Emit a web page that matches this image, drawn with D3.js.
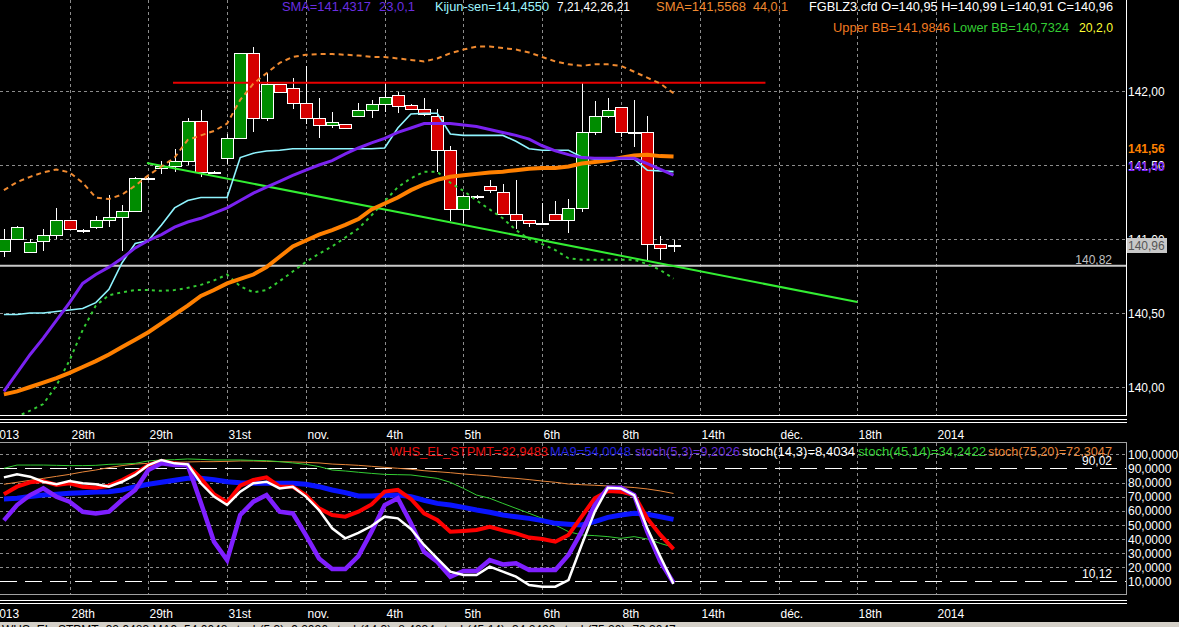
<!DOCTYPE html>
<html><head><meta charset="utf-8">
<script src="https://cdn.jsdelivr.net/npm/d3@7/dist/d3.min.js"></script>
<style>
html,body{margin:0;padding:0;background:#000;overflow:hidden}
svg{display:block}
text{font-family:"Liberation Sans",Arial,sans-serif;font-size:12px}
</style></head><body>
<svg id="c" width="1179" height="627"></svg>
<script>
// ---------- DATA ----------
const open =[140.92,141.00,140.915,140.985,141.025,141.13,141.06,141.08,141.13,141.15,141.19,141.41,141.48,141.49,141.525,141.80,141.455,141.545,141.68,142.26,141.815,142.05,142.02,141.92,141.815,141.77,141.775,141.83,141.875,141.91,141.97,141.905,141.88,141.83,141.60,141.20,141.29,141.355,141.315,141.17,141.13,141.105,141.17,141.13,141.21,141.72,141.83,141.89,141.72,141.72,140.965,140.95];
const high =[141.07,141.09,141.00,141.07,141.21,141.13,141.065,141.155,141.30,141.23,141.42,141.42,141.53,141.61,141.815,141.87,141.46,141.71,142.26,142.30,142.12,142.05,142.09,142.17,141.95,141.86,141.78,141.92,141.94,142.06,141.995,141.91,141.95,141.88,141.63,141.295,141.30,141.40,141.37,141.40,141.13,141.24,141.26,141.27,142.06,141.93,141.95,141.89,141.94,141.83,141.02,140.99];
const low  =[140.88,140.99,140.915,140.92,141.00,141.07,141.04,141.07,141.08,140.92,141.19,141.40,141.44,141.455,141.50,141.42,141.44,141.51,141.68,141.725,141.80,141.99,141.88,141.78,141.68,141.75,141.74,141.83,141.815,141.86,141.85,141.87,141.83,141.455,141.12,141.105,141.27,141.31,141.17,141.07,141.08,141.095,141.13,141.04,141.18,141.70,141.815,141.69,141.62,140.86,140.86,140.91];
const close=[141.00,141.08,140.98,141.025,141.13,141.07,141.06,141.13,141.15,141.19,141.41,141.41,141.49,141.525,141.80,141.455,141.445,141.68,142.26,141.815,142.05,141.995,141.92,141.815,141.77,141.79,141.75,141.875,141.91,141.96,141.90,141.88,141.845,141.60,141.20,141.29,141.29,141.33,141.17,141.13,141.105,141.10,141.13,141.21,141.72,141.83,141.87,141.72,141.72,140.965,140.94,140.96];

const kijun=[140.49,140.49,140.50,140.50,140.51,140.52,140.53,140.57,140.66,140.84,140.97,140.99,141.095,141.21,141.26,141.28,141.28,141.28,141.55,141.58,141.595,141.60,141.61,141.61,141.61,141.61,141.61,141.61,141.61,141.615,141.75,141.845,141.85,141.85,141.71,141.70,141.70,141.70,141.70,141.66,141.61,141.60,141.60,141.60,141.555,141.54,141.54,141.54,141.54,141.465,141.46,141.455];
const sma23=[139.97,140.095,140.22,140.33,140.45,140.57,140.70,140.76,140.81,140.87,140.94,140.99,141.03,141.08,141.115,141.14,141.175,141.21,141.26,141.31,141.35,141.39,141.43,141.466,141.50,141.53,141.575,141.615,141.65,141.68,141.72,141.75,141.78,141.78,141.78,141.77,141.76,141.74,141.72,141.70,141.675,141.63,141.595,141.57,141.55,141.545,141.545,141.545,141.545,141.51,141.47,141.4317];
const sma44=[139.95,139.97,140.00,140.03,140.06,140.095,140.135,140.175,140.22,140.27,140.32,140.37,140.43,140.49,140.55,140.615,140.655,140.70,140.73,140.76,140.81,140.88,140.95,140.99,141.03,141.06,141.095,141.135,141.20,141.24,141.28,141.33,141.37,141.40,141.42,141.43,141.44,141.45,141.455,141.465,141.475,141.48,141.48,141.49,141.51,141.52,141.53,141.55,141.565,141.57,141.56,141.5568];
const bbUpper=[141.33,141.385,141.42,141.45,141.47,141.45,141.38,141.28,141.27,141.30,141.36,141.43,141.49,141.55,141.67,141.70,141.73,141.78,141.94,142.05,142.12,142.19,142.23,142.245,142.25,142.25,142.245,142.24,142.23,142.23,142.22,142.21,142.20,142.22,142.255,142.28,142.30,142.30,142.29,142.28,142.26,142.23,142.20,142.18,142.17,142.18,142.18,142.17,142.13,142.09,142.05,141.9846];
const bbLower=[139.74,139.80,139.84,139.885,140.01,140.18,140.385,140.55,140.62,140.64,140.655,140.655,140.65,140.655,140.67,140.69,140.72,140.76,140.68,140.64,140.655,140.715,140.78,140.845,140.90,140.95,141.01,141.07,141.16,141.255,141.35,141.41,141.455,141.455,141.38,141.325,141.26,141.20,141.14,141.06,141.00,140.965,140.925,140.87,140.86,140.86,140.86,140.86,140.86,140.83,140.79,140.7324];

const whs  =[71.7,77.1,80.2,81.1,78.3,79.5,77.1,76.4,77.8,81.8,86.5,92.4,95.3,93.6,92.4,83.0,71.7,66.0,77.8,81.8,83.7,77.1,77.1,71.2,61.8,57.1,55.9,59.4,64.6,73.6,74.8,68.4,58.3,53.6,45.3,45.8,46.5,48.8,46.2,44.1,41.1,40.1,38.2,43.0,55.9,68.9,74.1,73.6,71.2,54.7,43.0,32.9483];
const ma9  =[68.4,68.9,70.1,71.2,71.7,72.4,72.9,73.4,73.6,74.8,77.1,78.8,80.2,81.6,83.0,83.0,82.1,80.6,79.9,79.5,79.5,79.5,79.5,78.8,77.1,74.8,72.9,70.5,70.5,71.0,71.2,70.1,67.5,65.3,64.2,62.5,60.6,59.0,57.1,55.9,54.7,53.1,51.2,50.5,50.0,52.4,55.4,57.1,58.3,57.6,55.9,54.0048];
const st53 =[53.3,64.1,71.2,76.0,70.0,66.5,59.4,58.2,59.4,67.7,74.8,88.9,93.6,92.4,92.4,65.8,38.2,25.2,57.1,66.5,71.2,59.4,58.2,42.9,26.4,18.9,18.9,28.0,45.3,64.1,68.9,51.2,31.1,24.0,13.4,17.5,17.5,25.2,22.1,22.9,18.2,18.2,18.2,28.8,45.3,64.1,76.4,76.4,71.2,45.3,24.0,9.2026];
const st143=[83.7,85.8,84.2,80.6,78.8,81.1,79.5,78.8,77.1,80.6,85.4,92.4,96.0,93.6,92.9,79.5,70.1,64.2,73.6,79.5,80.6,75.9,77.1,70.1,60.6,47.7,40.6,44.5,49.3,55.9,54.7,47.2,35.9,26.4,17.0,14.7,14.7,20.6,17.0,13.5,7.6,6.4,6.4,11.1,35.9,59.4,76.4,75.9,71.2,47.7,27.6,8.4034];
const st4514=[90.1,92.4,92.4,92.4,92.2,92.0,92.0,92.2,92.9,93.1,93.6,95.3,96.0,96.2,96.7,96.4,96.0,96.0,96.0,95.7,95.5,94.8,93.9,92.9,91.3,88.9,88.2,87.3,86.5,85.8,85.6,85.4,84.2,83.0,80.2,75.9,71.2,68.9,65.3,61.8,58.3,54.7,50.0,45.3,43.0,42.5,41.8,40.6,41.8,40.1,37.0,34.2422];
const st7520=[78.8,80.2,81.6,83.0,84.4,85.8,87.5,88.9,90.6,92.0,93.1,93.6,94.1,94.3,94.6,94.8,94.8,95.0,95.3,95.3,95.0,94.8,94.6,94.3,93.9,93.1,92.7,92.2,91.5,90.8,90.1,89.4,88.4,87.7,87.0,86.1,85.4,84.7,83.7,83.0,82.1,81.1,80.2,79.0,78.5,78.1,77.6,77.1,76.5,75.5,74.1,72.3047];

const tickLabels=["2013","28th","29th","31st","nov.","4th","5th","6th","8th","14th","déc.","18th","2014"];
const tickIndex=[-1,5,11,17,23,29,35,41,47,53,59,65,71];
const priceTicks=[140,140.5,141,141.5,142];
const oscTicks=[100,90,80,70,60,50,40,30,20,10];
const oscLevels=[90.02,10.12];
const resistance=142.056, resistFrom=12.88, resistTo=58;
const support=140.82;
const trendIdx=[10.9,65], trendPx=[141.514,140.574];

// ---------- SETUP ----------
const svg=d3.select("#c");
const W=1179, PR=1126;
const loc=d3.formatLocale({decimal:",",thousands:".",grouping:[3],currency:["","€"]});
const f4=loc.format(".4f"), f2=loc.format(".2f");
const N=close.length, L=N-1;

const x=d3.scaleLinear().domain([0,85]).range([3.9,3.9+85*13.13]);
const y=d3.scaleLinear().domain([140,142]).range([387,91]);
const yo=d3.scaleLinear().domain([10,100]).range([581.6,454.3]);

const defs=svg.append("defs");
defs.append("clipPath").attr("id","cm").append("rect").attr("x",0).attr("y",0).attr("width",PR).attr("height",415);
defs.append("clipPath").attr("id","co").append("rect").attr("x",0).attr("y",443).attr("width",PR).attr("height",151);

svg.append("rect").attr("width",W).attr("height",627).attr("fill","#000");

// ---------- MAIN PANEL ----------
const gm=svg.append("g").attr("clip-path","url(#cm)");
// grid
tickIndex.slice(1).forEach(i=>{
  const xx=Math.round(x(i))+0.5;
  gm.append("line").attr("x1",xx).attr("x2",xx).attr("y1",0).attr("y2",415)
    .attr("stroke","#8c8c8c").attr("stroke-dasharray","3,3");
});
priceTicks.forEach(p=>{
  const yy=Math.round(y(p))+0.5;
  gm.append("line").attr("x1",0).attr("x2",PR).attr("y1",yy).attr("y2",yy)
    .attr("stroke","#8c8c8c").attr("stroke-dasharray","3,3");
});
// support line
gm.append("line").attr("x1",0).attr("x2",PR).attr("y1",y(support)).attr("y2",y(support))
  .attr("stroke","#c8c8c8").attr("stroke-width",2);

// candles
const gc=gm.append("g").attr("shape-rendering","crispEdges");
for(let i=0;i<N;i++){
  const cx=Math.round(x(i))+0.5;
  gc.append("line").attr("x1",cx).attr("x2",cx).attr("y1",y(high[i])).attr("y2",y(low[i]))
    .attr("stroke","#fff");
  const t=Math.round(Math.min(y(open[i]),y(close[i]))), b=Math.round(Math.max(y(open[i]),y(close[i])));
  const col=close[i]>open[i]?"#008c00":(close[i]<open[i]?"#d50000":"#000");
  gc.append("rect").attr("x",cx-6).attr("y",t+0.5).attr("width",12).attr("height",Math.max(1,b-t))
    .attr("fill",col).attr("stroke","#fff");
}

const mline=(arr)=>d3.line().x((d,i)=>x(i)).y(d=>y(d))(arr);
// trend lines
gm.append("line").attr("x1",x(resistFrom)).attr("x2",x(resistTo)).attr("y1",y(resistance)).attr("y2",y(resistance))
  .attr("stroke","#e80000").attr("stroke-width",2);
gm.append("line").attr("x1",x(trendIdx[0])).attr("x2",x(trendIdx[1])).attr("y1",y(trendPx[0])).attr("y2",y(trendPx[1]))
  .attr("stroke","#33ee33").attr("stroke-width",2);
// indicators
gm.append("path").attr("d",mline(bbUpper)).attr("fill","none").attr("stroke","#f08a30").attr("stroke-width",2).attr("stroke-dasharray","5,4");
gm.append("path").attr("d",mline(bbLower)).attr("fill","none").attr("stroke","#33cc33").attr("stroke-width",2).attr("stroke-dasharray","3,4");
gm.append("path").attr("d",mline(sma44)).attr("fill","none").attr("stroke","#ff8000").attr("stroke-width",4);
gm.append("path").attr("d",mline(kijun)).attr("fill","none").attr("stroke","#8ff4ff").attr("stroke-width",1.6);
gm.append("path").attr("d",mline(sma23)).attr("fill","none").attr("stroke","#7a22f0").attr("stroke-width",3);

// frame
svg.append("line").attr("x1",PR+0.5).attr("x2",PR+0.5).attr("y1",0).attr("y2",415.5).attr("stroke","#fff");
[415.5,419.5,422.5].forEach(v=>svg.append("line").attr("x1",0).attr("x2",PR+1).attr("y1",v).attr("y2",v).attr("stroke","#fff"));

// right axis labels main
priceTicks.forEach(p=>{
  svg.append("text").attr("x",1128).attr("y",y(p)+4.5).attr("fill","#fff").text(f2(p));
});
svg.append("text").attr("x",1128).attr("y",152.5).attr("fill","#ff8000").attr("font-weight","bold").text(f2(sma44[L]));
svg.append("text").attr("x",1128).attr("y",170.5).attr("fill","#7a22f0").attr("font-weight","bold").text(f2(sma23[L]));
svg.append("rect").attr("x",1127).attr("y",238).attr("width",40).attr("height",15).attr("fill","#c8c8c8");
svg.append("text").attr("x",1128).attr("y",250).attr("fill","#555").text(f2(close[L]));
svg.append("text").attr("x",1112).attr("y",264).attr("text-anchor","end").attr("fill","#c0c0c0").text(f2(support));

// header
function seg(xx,yy,len,col,str){
  svg.append("text").attr("x",xx).attr("y",yy).attr("fill",col).attr("textLength",len)
    .attr("lengthAdjust","spacingAndGlyphs").text(str);
}
seg(282,10.5,89,"#6a2ee0","SMA="+f4(sma23[L]));
seg(379,10.5,36,"#6a2ee0","23,0,1");
seg(435,10.5,114,"#9ff6ff","Kijun-sen="+f4(kijun[L]));
seg(557,10.5,73,"#fff","7,21,42,26,21");
seg(656,10.5,90,"#f08a30","SMA="+f4(sma44[L]));
seg(753,10.5,35,"#f08a30","44,0,1");
seg(809,10.5,304,"#fff","FGBLZ3.cfd O="+f2(open[L])+" H="+f2(high[L])+" L="+f2(low[L])+" C="+f2(close[L]));
seg(833,32,117,"#f07a20","Upper BB="+f4(bbUpper[L]));
seg(953,32,116,"#33cc33","Lower BB="+f4(bbLower[L]));
seg(1079,32,34,"#ffff33","20,2,0");

// x-axis labels
tickIndex.forEach((ti,k)=>{
  const xx=Math.round(x(ti))+1.5;
  svg.append("text").attr("x",xx).attr("y",439).attr("fill","#fff").text(tickLabels[k]);
  svg.append("text").attr("x",xx).attr("y",618).attr("fill","#fff").text(tickLabels[k]);
});

// ---------- OSC PANEL ----------
const go=svg.append("g").attr("clip-path","url(#co)");
tickIndex.slice(1).forEach(i=>{
  const xx=Math.round(x(i))+0.5;
  go.append("line").attr("x1",xx).attr("x2",xx).attr("y1",443).attr("y2",594)
    .attr("stroke","#8c8c8c").attr("stroke-dasharray","3,3");
});
oscTicks.filter(v=>v!==90&&v!==10).forEach(v=>{
  const yy=Math.round(yo(v))+0.5;
  go.append("line").attr("x1",0).attr("x2",PR).attr("y1",yy).attr("y2",yy)
    .attr("stroke","#8c8c8c").attr("stroke-dasharray","3,3");
});
oscLevels.forEach(v=>{
  const yy=Math.round(yo(v))+0.5;
  go.append("line").attr("x1",0).attr("x2",PR).attr("y1",yy).attr("y2",yy)
    .attr("stroke","#fff").attr("stroke-dasharray","17,8");
});
const oline=(arr)=>d3.line().x((d,i)=>x(i)).y(d=>yo(d))(arr);
go.append("path").attr("d",oline(st7520)).attr("fill","none").attr("stroke","#e8863a").attr("stroke-width",1);
go.append("path").attr("d",oline(st4514)).attr("fill","none").attr("stroke","#33cc33").attr("stroke-width",1);
go.append("path").attr("d",oline(ma9)).attr("fill","none").attr("stroke","#0a14ff").attr("stroke-width",5);
go.append("path").attr("d",oline(whs)).attr("fill","none").attr("stroke","#ff0000").attr("stroke-width",4);
go.append("path").attr("d",oline(st53)).attr("fill","none").attr("stroke","#7f1fff").attr("stroke-width",4.5);
go.append("path").attr("d",oline(st143)).attr("fill","none").attr("stroke","#fff").attr("stroke-width",2.5);

// osc frame
svg.append("rect").attr("x",-1).attr("y",442.5).attr("width",PR+1.5).attr("height",152).attr("fill","none").attr("stroke","#a0a0a0");
[600.5,603.5].forEach(v=>svg.append("line").attr("x1",0).attr("x2",PR+1).attr("y1",v).attr("y2",v).attr("stroke","#fff"));

// osc labels
oscTicks.forEach(v=>svg.append("text").attr("x",1128).attr("y",yo(v)+4.5).attr("fill","#fff").text(loc.format(".4f")(v)));
oscLevels.forEach(v=>svg.append("text").attr("x",1112).attr("y",yo(v)-3).attr("text-anchor","end").attr("fill","#fff").text(f2(v)));

// osc legend
seg(390,456,158,"#e81010","WHS_EL_STPMT="+f4(whs[L]));
seg(550,456,81,"#2222e0","MA9="+f4(ma9[L]));
seg(635,456,105,"#6a2ed8","stoch(5,3)="+f4(st53[L]));
seg(742,456,113,"#fff","stoch(14,3)="+f4(st143[L]));
seg(858,456,128,"#33cc33","stoch(45,14)="+f4(st4514[L]));
seg(988,456,124,"#e8863a","stoch(75,20)="+f4(st7520[L]));

// status bar
svg.append("rect").attr("x",0).attr("y",622).attr("width",W).attr("height",5).attr("fill","#d4d0c8");
svg.append("text").attr("x",2).attr("y",634).attr("fill","#000")
  .text("WHS_EL_STPMT="+f4(whs[L])+" MA9="+f4(ma9[L])+" stoch(5,3)="+f4(st53[L])+" stoch(14,3)="+f4(st143[L])+" stoch(45,14)="+f4(st4514[L])+" stoch(75,20)="+f4(st7520[L]));
</script></body></html>
